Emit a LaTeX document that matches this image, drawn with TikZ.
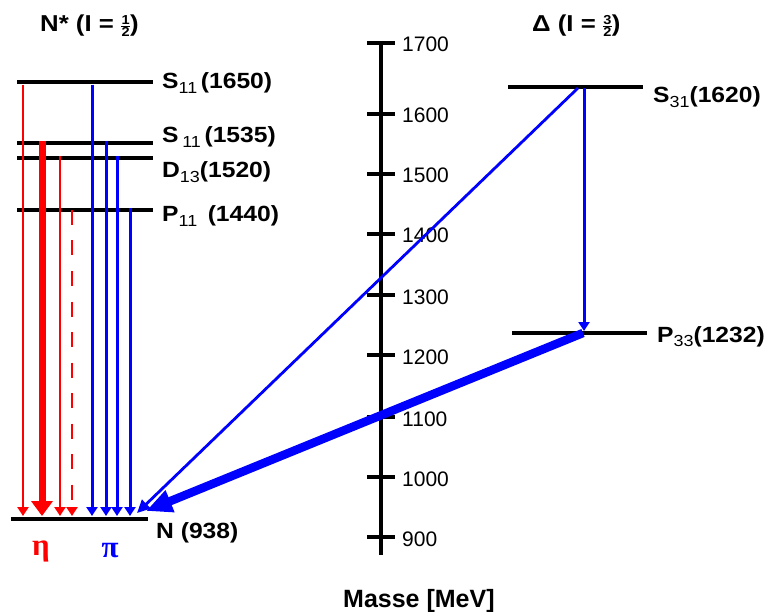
\documentclass[tikz,border=0pt]{standalone}
\usepackage{fontspec}
\setmainfont{Liberation Sans}
\newfontfamily\widesans{Liberation Sans}[FakeStretch=1.12]
\newfontfamily\serifgr{Liberation Serif}
\usetikzlibrary{arrows.meta}
\definecolor{pred}{RGB}{255,0,0}
\definecolor{pblue}{RGB}{0,0,255}
\newcommand\subsc[1]{\raisebox{-0.35ex}{\fontsize{16}{16}\selectfont\mdseries #1}}
\newcommand\fracdigit[1]{\widesans\fontsize{13}{13}\selectfont\bfseries #1}
\newcommand\halffrac[2]{\raisebox{-5pt}{\vbox{\offinterlineskip\hbox to 9pt{\hss\fracdigit{#1}\hss}\vskip1pt\hrule height 1.2pt\vskip1pt\hbox to 9pt{\hss\fracdigit{#2}\hss}}}}
\begin{document}
\begin{tikzpicture}[x=1pt,y=-1pt,
  level/.style={line width=4pt},
  lbl/.style={font=\widesans\fontsize{22}{24}\selectfont\bfseries, anchor=base west, inner sep=0pt},
  ticklbl/.style={font=\fontsize{21}{24}\selectfont, anchor=base west, inner sep=0pt},
  thinred/.style={draw=pred, line width=2.6pt, -{Triangle[width=11pt,length=9pt]}},
  thickred/.style={draw=pred, line width=7pt, -{Triangle[width=21pt,length=15pt]}},
  thinblue/.style={draw=pblue, line width=3pt, -{Triangle[width=11pt,length=9pt]}},
  diagblue/.style={draw=pblue, line width=2.8pt, -{Triangle[width=12pt,length=13pt]}},
  thickblue/.style={draw=pblue, line width=8.5pt, -{Triangle[width=22pt,length=26pt]}},
  tickmark/.style={line width=4pt}
]
\useasboundingbox (0,0) rectangle (765,612);

% titles
\node[lbl, font=\widesans\fontsize{23}{24}\selectfont\bfseries] (tN) at (40,32) {N* (I = \halffrac{1}{2})};
\node[lbl, font=\widesans\fontsize{23}{24}\selectfont\bfseries] (tD) at (532,32) {Δ (I = \halffrac{3}{2})};

% mass axis
\coordinate (axtop) at (381,41);
\coordinate (axbot) at (381,555);
\draw[line width=4pt] (axtop) -- (axbot);
\foreach \m/\yy in {1700/43,1600/114,1500/174,1400/234,1300/295,1200/355,1100/417,1000/477,900/537}{
  \coordinate (tl\m) at (367,\yy);
  \coordinate (tr\m) at (395,\yy);
  \draw[tickmark] (tl\m) -- (tr\m);
  \node[ticklbl] (lab\m) at (402,\yy+9) {\m};
}
\node[lbl, font=\fontsize{25}{26}\selectfont\bfseries] (masse) at (343,607) {Masse [MeV]};

% N* levels
\coordinate (s1650a) at (17,82);  \coordinate (s1650b) at (153,82);
\coordinate (s1535a) at (17,143); \coordinate (s1535b) at (153,143);
\coordinate (d1520a) at (17,158); \coordinate (d1520b) at (153,158);
\coordinate (p1440a) at (17,210); \coordinate (p1440b) at (153,210);
\coordinate (n938a) at (11,519);  \coordinate (n938b) at (148,519);
\draw[level] (s1650a) -- (s1650b);
\draw[level] (s1535a) -- (s1535b);
\draw[level] (d1520a) -- (d1520b);
\draw[level] (p1440a) -- (p1440b);
\draw[level] (n938a) -- (n938b);

\node[lbl] (ls1650) at (162,89) {S\subsc{11}\,(1650)};
\node[lbl] (ls1535) at (162,143) {S\,\subsc{11}\,(1535)};
\node[lbl] (ld1520) at (162,178) {D\subsc{13}(1520)};
\node[lbl] (lp1440) at (162,222) {P\subsc{11} \,(1440)};
\node[lbl] (ln938) at (156,538) {N (938)};

% Delta levels
\coordinate (s1620a) at (508,87); \coordinate (s1620b) at (643,87);
\coordinate (p1232a) at (512,333); \coordinate (p1232b) at (647,333);
\draw[level] (s1620a) -- (s1620b);
\draw[level] (p1232a) -- (p1232b);
\node[lbl] (ls1620) at (653,103) {S\subsc{31}(1620)};
\node[lbl] (lp1232) at (657,342) {P\subsc{33}(1232)};

% eta decays
\coordinate (r1s) at (23,85);  \coordinate (r1e) at (23,516);
\coordinate (r2s) at (42,141); \coordinate (r2e) at (42,516);
\coordinate (r3s) at (60,156); \coordinate (r3e) at (60,516);
\coordinate (r4s) at (72,210); \coordinate (r4e) at (72,516);
\draw[thinred] (r1s) -- (r1e);
\draw[thickred] (r2s) -- (r2e);
\draw[thinred] (r3s) -- (r3e);
\draw[thinred, dash pattern=on 15pt off 15.5pt] (r4s) -- (r4e);

% pi decays
\coordinate (b1s) at (92,85);  \coordinate (b1e) at (92,516);
\coordinate (b2s) at (106,141); \coordinate (b2e) at (106,516);
\coordinate (b3s) at (117,156); \coordinate (b3e) at (117,516);
\coordinate (b4s) at (130,208); \coordinate (b4e) at (130,516);
\draw[thinblue] (b1s) -- (b1e);
\draw[thinblue] (b2s) -- (b2e);
\draw[thinblue] (b3s) -- (b3e);
\draw[thinblue] (b4s) -- (b4e);

% Delta decays
\coordinate (ds) at (578,88);  \coordinate (de) at (137,513);
\draw[diagblue] (ds) -- (de);
\coordinate (vs) at (584,88);  \coordinate (ve) at (584,331);
\draw[thinblue] (vs) -- (ve);
\coordinate (ps) at (583,333); \coordinate (pe) at (146,511);
\draw[thickblue] (ps) -- (pe);

% eta / pi labels
\node[font=\serifgr\fontsize{31}{32}\selectfont\bfseries, text=pred, anchor=base, inner sep=0pt] (eta) at (41,555) {η};
\node[font=\serifgr\fontsize{31}{32}\selectfont\bfseries, text=pblue, anchor=base, inner sep=0pt] (pi) at (110,557) {π};
\end{tikzpicture}
\end{document}
